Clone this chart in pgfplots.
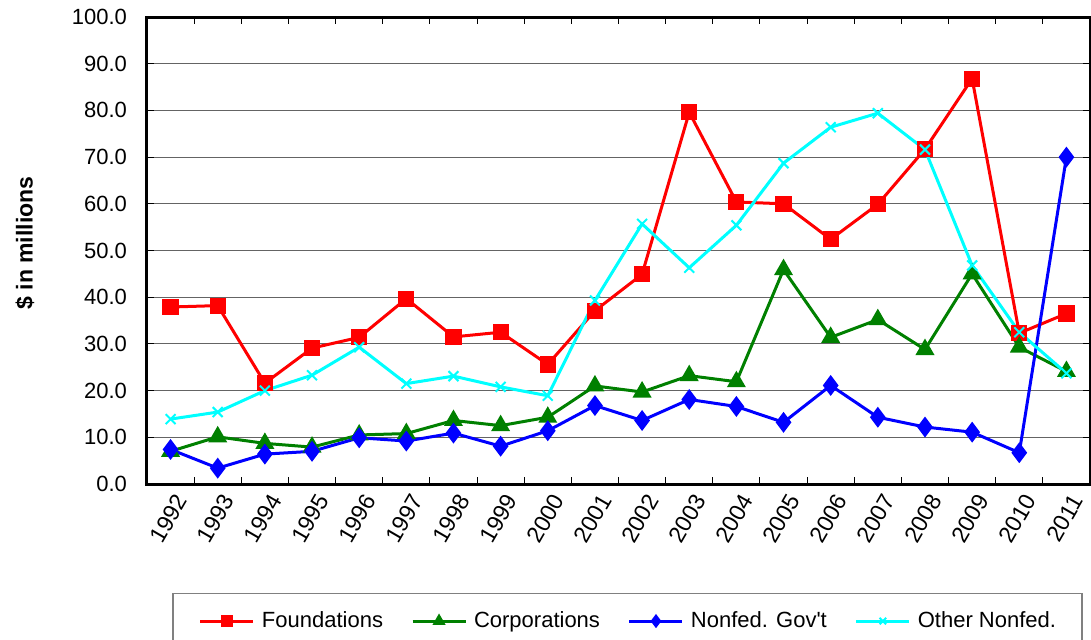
\documentclass[border=0pt]{standalone}
\usepackage{fontspec}
\setmainfont{Liberation Sans}
\usepackage{pgfplots}
\pgfplotsset{compat=1.18}
\definecolor{fred}{RGB}{255,0,0}
\definecolor{fgreen}{RGB}{0,128,0}
\definecolor{fblue}{RGB}{0,0,255}
\definecolor{fcyan}{RGB}{0,255,255}
\definecolor{gridgray}{RGB}{100,100,100}

\begin{document}
\begin{tikzpicture}[font=\fontsize{11}{13.2}\selectfont]
\begin{axis}[
  name=ax,
  scale only axis,
  width=471.5pt, height=233.5pt,
  xmin=-0.5, xmax=19.5,
  ymin=0, ymax=100,
  xtick={0,...,19},
  xticklabels={1992,1993,1994,1995,1996,1997,1998,1999,2000,2001,2002,2003,2004,2005,2006,2007,2008,2009,2010,2011},
  minor xtick={0.5,1.5,...,18.5},
  major x tick style={draw=none},
  ytick={0,10,...,100},
  tick align=inside,
  major tick length=3.5pt,
  minor tick length=3.5pt,
  tick style={black, line width=0.5pt},
  ymajorgrids,
  grid style={gridgray, line width=0.5pt},
  axis line style={line width=1.5pt},
  /pgf/number format/fixed,
  /pgf/number format/fixed zerofill,
  /pgf/number format/precision=1,
  /pgf/number format/assume math mode=true,
  yticklabel style={xshift=-6.5pt},
  xticklabel style={rotate=60, anchor=north east, inner sep=1pt, xshift=-1.5pt, yshift=-2.5pt, font=\fontsize{11.5}{13.8}\selectfont},
  ylabel={\$ in millions},
  every axis y label/.style={at={(axis description cs:-0.1294,0.516)}, rotate=90, anchor=center, font=\fontsize{11.5}{13.8}\selectfont\bfseries},
  legend columns=4,
  legend style={at={(axis description cs:0.5,0)}, anchor=north, xshift=4.5pt, yshift=-54.5pt,
    draw=gray, line width=0.6pt, inner xsep=13pt, inner ysep=9pt,
    nodes={inner sep=0pt},
    /tikz/every odd column/.append style={column sep=3.5pt},
    /tikz/every even column/.append style={column sep=14pt}},
  legend image code/.code={\draw[mark repeat=2, mark phase=2, #1, mark size=2.3pt] plot coordinates {(0pt,0pt) (13.25pt,0pt) (26.5pt,0pt)};},
  every axis plot/.append style={line width=1.5pt},
]
\addplot[fred, mark=square*, mark size=3.3pt] coordinates {
  (0,37.9) (1,38.2) (2,21.6) (3,29.1) (4,31.4) (5,39.7) (6,31.5) (7,32.5) (8,25.6) (9,37.1)
  (10,44.9) (11,79.6) (12,60.4) (13,60.0) (14,52.4) (15,59.9) (16,71.7) (17,86.8) (18,32.3) (19,36.5)
};
\addlegendentry{Foundations}
\addplot[fgreen, mark=triangle*, mark size=4pt] coordinates {
  (0,7.0) (1,10.1) (2,8.7) (3,7.9) (4,10.5) (5,10.8) (6,13.6) (7,12.5) (8,14.3) (9,21.0)
  (10,19.7) (11,23.2) (12,21.9) (13,45.9) (14,31.4) (15,35.2) (16,28.8) (17,45.0) (18,29.3) (19,24.1)
};
\addlegendentry{Corporations}
\addplot[fblue, mark=diamond*, mark size=4pt] coordinates {
  (0,7.4) (1,3.4) (2,6.4) (3,7.0) (4,9.9) (5,9.2) (6,10.9) (7,8.1) (8,11.4) (9,16.8)
  (10,13.6) (11,18.1) (12,16.6) (13,13.2) (14,21.1) (15,14.3) (16,12.2) (17,11.1) (18,6.7) (19,70.0)
};
\addlegendentry{Nonfed. Gov\textquotesingle t}
\addplot[fcyan, mark=x, mark size=3.5pt, mark options={line width=1pt}] coordinates {
  (0,13.9) (1,15.4) (2,20.0) (3,23.3) (4,29.3) (5,21.5) (6,23.1) (7,20.8) (8,18.9) (9,39.3)
  (10,55.7) (11,46.3) (12,55.4) (13,68.7) (14,76.4) (15,79.4) (16,71.6) (17,46.8) (18,32.5) (19,23.7)
};
\addlegendentry{Other Nonfed.}
\end{axis}
\pgfresetboundingbox
\path ([shift={(-73.5pt,-77.5pt)}]ax.south west) rectangle ([shift={(0.5pt,8.5pt)}]ax.north east);
\end{tikzpicture}
\end{document}
